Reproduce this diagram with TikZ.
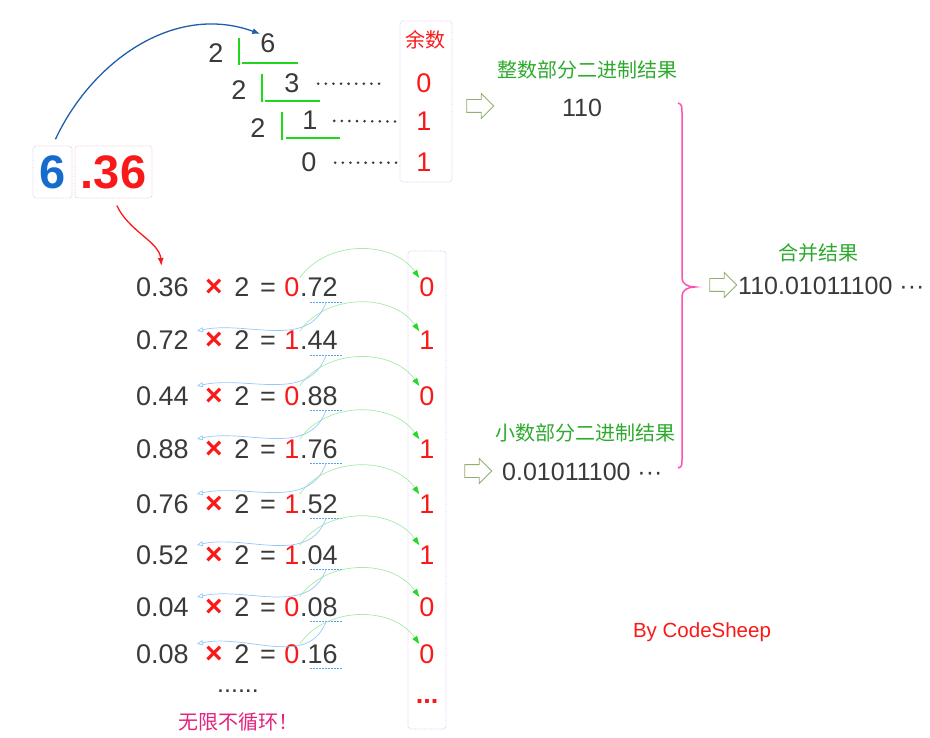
\documentclass[tikz,border=0pt]{standalone}
\usepackage{fontspec}
\setmainfont{Liberation Sans}
\newfontfamily\cjk{Noto Sans CJK SC}
\usetikzlibrary{shapes.arrows, positioning, arrows.meta, calc}

\definecolor{ink}{RGB}{58,58,58}
\definecolor{hotred}{RGB}{250,25,25}
\definecolor{sixblue}{RGB}{22,108,204}
\definecolor{curveblue}{RGB}{30,95,170}
\definecolor{barGreen}{RGB}{30,215,30}
\definecolor{labGreen}{RGB}{45,170,45}
\definecolor{lineGreen}{RGB}{165,235,165}
\definecolor{tipGreen}{RGB}{40,215,40}
\definecolor{lineBlue}{RGB}{150,200,250}
\definecolor{ulBlue}{RGB}{90,160,235}
\definecolor{boxPurple}{RGB}{215,200,245}
\definecolor{boxPink}{RGB}{245,195,195}
\definecolor{bracePink}{RGB}{255,80,175}
\definecolor{loopRed}{RGB}{225,35,125}
\definecolor{arrOlive}{RGB}{145,175,110}

\begin{document}
\begin{tikzpicture}[x=1pt, y=1pt,
  every node/.style={inner sep=0pt, text=ink, font=\fontsize{27}{30}\selectfont},
  num/.style={anchor=base},
  rnum/.style={anchor=base, text=hotred},
  lab/.style={text=labGreen, font=\cjk\fontsize{20}{24}\selectfont},
  frame/.style={draw=boxPurple, densely dotted, rounded corners=3pt, line width=0.8pt},
  divbar/.style={draw=barGreen, line width=2.6pt},
  dots/.style={draw=ink, line width=2.9pt, line cap=round, dash pattern=on 0pt off 7.6pt},
  fwd/.style={draw=lineGreen, line width=0.7pt,
    -{Triangle[length=8pt, width=5.5pt, color=tipGreen]}},
  back/.style={draw=lineBlue, line width=0.7pt, -{Triangle[open, length=6pt, width=5pt]}},
  uline/.style={draw=ulBlue, line width=0.8pt, dash pattern=on 2pt off 1pt},
  outarr/.style={single arrow, draw=arrOlive, fill=white, line width=0.9pt,
    inner xsep=0pt, inner ysep=6pt, minimum height=27pt, single arrow head extend=6pt},
  curvearr/.style={line width=1.3pt, -{Latex[length=8pt, width=6pt]}},
]
\useasboundingbox (0,0) rectangle (930,-738);

%% ---- Integer part: repeated division by 2 ----
\node[num] (d1) at (216,-63) {2};
\node[num] (q1) at (268,-53) {6};
\node[num] (d2) at (239,-100) {2};
\node[num] (q2) at (292,-93) {3};
\node[num] (d3) at (258,-138) {2};
\node[num] (q3) at (310,-130) {1};
\node[num] (q4) at (309,-172) {0};
\draw[divbar] (239,-38) -- (239,-65) (242,-63) -- (298,-63);
\draw[divbar] (262,-74) -- (262,-102) (265,-101) -- (320,-101);
\draw[divbar] (282,-112) -- (282,-140) (286,-138) -- (340,-138);

%% ---- Remainders ----
\draw[frame] (400,-21) rectangle (452,-182);
\node[lab, text=hotred] (rhead) at (425,-40) {余数};
\node[rnum] (r1) at (424,-93) {0};
\node[rnum] (r2) at (424,-131) {1};
\node[rnum] (r3) at (424,-172) {1};
\draw[dots, shorten <=18.5pt, shorten >=36.5pt] (q2.east) -- (r1.west);
\draw[dots, shorten <=16.5pt, shorten >=19.5pt] (q3.east) -- (r2.west);
\draw[dots, shorten <=18.5pt, shorten >=19.5pt] (q4.east) -- (r3.west);

%% ---- The number 6.36 ----
\node[frame, minimum width=39pt, minimum height=52pt, text=sixblue,
  font=\bfseries\fontsize{47}{50}\selectfont] (ip) at (52.5,-172) {6};
\node[frame, draw=boxPink, minimum width=77pt, minimum height=52pt, text=hotred,
  font=\bfseries\fontsize{47}{50}\selectfont] (fp) at (113.5,-172) {.36};

%% ---- Fraction part: repeated multiplication by 2 ----
\foreach \yb/\va/\vb/\vc [count=\i] in {297/0.36/0/72, 350/0.72/1/44, 405/0.44/0/88,
    458/0.88/1/76, 513/0.76/1/52, 564/0.52/1/04, 616/0.04/0/08, 663/0.08/0/16} {
  \node[num, anchor=base west] (lhs\i) at (136,-\yb) {\va};
  \node[rnum, font=\bfseries\fontsize{30}{30}\selectfont] (x\i) at (214,-\yb) {×};
  \node[num] (two\i) at (242,-\yb) {2};
  \node[num] (eq\i) at (268,-\yb) {=};
  \node[rnum] (int\i) at (292,-\yb) {\vb};
  \node[num, anchor=base west] (frac\i) at (300,-\yb) {.\vc};
  \node[rnum] (res\i) at (427,-\yb) {\vb};
  \draw[uline] ($(frac\i.base west)+(10,-5)$) -- coordinate (ul\i)
    ($(frac\i.base east)+(4.5,-5)$);
}
\foreach \i in {1,...,8}
  \draw[fwd] (int\i.north east) to[out=55, in=125] (res\i.north west);
\foreach \i [count=\j from 2] in {1,...,7}
  \draw[back] (ul\i) to[out=-110, in=12] ([xshift=8pt]lhs\j.north east);

\draw[frame] (408,-251) rectangle (446,-729);
\node[rnum, font=\bfseries\fontsize{27}{30}\selectfont] (resmore) at (427,-703) {...};
\node[num, font=\fontsize{25}{30}\selectfont] (more) at (238,-692) {......};
\node[lab, text=loopRed] (note) at (238,-722) {无限不循环！};

%% ---- Curved pointers ----
\draw[curvearr, curveblue, shorten <=7pt] (ip.north) to[out=65, in=160] (q1.north west);
\draw[curvearr, hotred, shorten <=8pt, shorten >=12pt] (fp.south) to[out=-65, in=95] (lhs1.north);

%% ---- Results ----
\node[outarr] (arrI) at (477,-106) {};
\node[lab] (labI) at (587,-70) {整数部分二进制结果};
\node[num, font=\fontsize{25}{30}\selectfont] (resI) at (582,-117) {110};

\node[outarr] (arrF) at (475,-471) {};
\node[lab] (labF) at (585,-433) {小数部分二进制结果};
\node[num, anchor=base west, font=\fontsize{25}{30}\selectfont] (resF) at (502,-480)
  {0.01011100 ···};

\draw[bracePink, line width=1.5pt] (678,-103) .. controls (682,-104) and (682,-107) .. (682,-113)
  -- (682,-278) .. controls (682,-284) and (688,-287) .. (695,-287)
  .. controls (688,-287) and (682,-290) .. (682,-296)
  -- (682,-460) .. controls (682,-465) and (682,-467) .. (678,-468);

\node[outarr] (arrM) at (720,-285) {};
\node[lab] (labM) at (818,-253) {合并结果};
\node[num, anchor=base west, font=\fontsize{25}{30}\selectfont] (resM) at (738,-295)
  {110.01011100 ···};

\node[text=hotred, font=\fontsize{20.5}{24}\selectfont] (sign) at (702,-632) {By CodeSheep};

\end{tikzpicture}
\end{document}
